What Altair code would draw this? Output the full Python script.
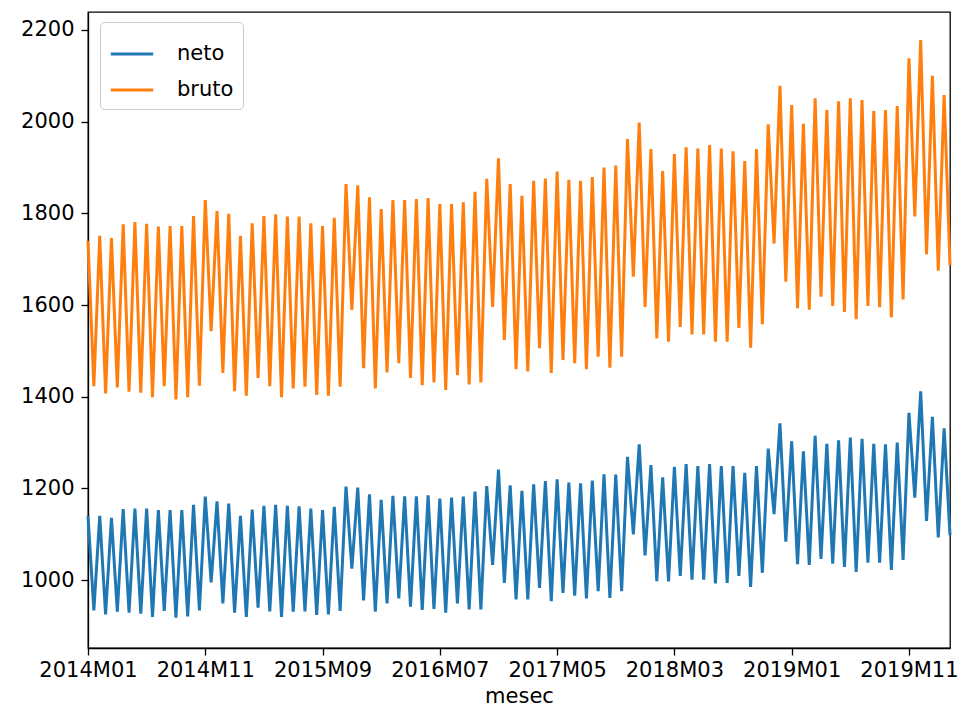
import altair as alt
import pandas as pd

neto = [1140, 934, 1140, 925, 1136, 931, 1155, 929, 1156, 927, 1156, 920, 1153, 933, 1153, 918,
        1153, 921, 1164, 934, 1182, 995, 1172, 949, 1167, 929, 1140, 920, 1154, 940, 1162, 932,
        1164, 920, 1162, 931, 1161, 932, 1156, 924, 1153, 925, 1160, 933, 1204, 1025, 1202, 956,
        1187, 931, 1175, 949, 1184, 960, 1183, 942, 1183, 935, 1185, 937, 1178, 929, 1180, 949,
        1182, 936, 1193, 936, 1205, 1033, 1241, 994, 1207, 958, 1195, 958, 1209, 983, 1216, 954,
        1220, 972, 1213, 966, 1211, 960, 1217, 976, 1231, 961, 1230, 976, 1269, 1100, 1296, 1054,
        1251, 998, 1224, 997, 1247, 1009, 1253, 1001, 1249, 1001, 1253, 993, 1249, 994, 1249, 1009,
        1234, 985, 1249, 1016, 1287, 1144, 1342, 1084, 1303, 1035, 1281, 1033, 1315, 1046, 1297, 1036,
        1305, 1029, 1311, 1018, 1308, 1038, 1297, 1038, 1296, 1022, 1300, 1044, 1365, 1180, 1412, 1129,
        1356, 1093, 1331, 1098]

bruto = [1740, 1423, 1751, 1407, 1746, 1420, 1776, 1411, 1781, 1409, 1777, 1399, 1771, 1423, 1772, 1394,
         1772, 1399, 1794, 1424, 1829, 1543, 1805, 1452, 1799, 1412, 1751, 1402, 1778, 1441, 1794, 1423,
         1798, 1399, 1793, 1418, 1793, 1422, 1778, 1404, 1772, 1402, 1790, 1422, 1864, 1589, 1861, 1462,
         1835, 1418, 1809, 1453, 1829, 1473, 1829, 1441, 1831, 1425, 1833, 1431, 1820, 1415, 1820, 1447,
         1824, 1427, 1847, 1431, 1875, 1596, 1920, 1524, 1864, 1460, 1838, 1455, 1871, 1506, 1876, 1452,
         1891, 1480, 1873, 1473, 1871, 1460, 1879, 1487, 1900, 1463, 1904, 1487, 1962, 1662, 1998, 1596,
         1940, 1527, 1892, 1520, 1929, 1552, 1944, 1536, 1941, 1536, 1949, 1520, 1941, 1520, 1935, 1550,
         1914, 1507, 1940, 1558, 1994, 1734, 2078, 1651, 2036, 1593, 1995, 1590, 2051, 1618, 2025, 1598,
         2044, 1585, 2051, 1569, 2047, 1598, 2023, 1595, 2025, 1573, 2034, 1612, 2138, 1793, 2178, 1711,
         2100, 1675, 2058, 1687]

tick_labels = ["2014M01", "2014M11", "2015M09", "2016M07", "2017M05", "2018M03", "2019M01", "2019M11"]
tick_step = 20
tick_values = [i * tick_step for i in range(len(tick_labels))]
y_ticks = [1000, 1200, 1400, 1600, 1800, 2000, 2200]

series_names = ["neto", "bruto"]
colors = ["#1f77b4", "#ff7f0e"]

rows = []
for name, vals in zip(series_names, [neto, bruto]):
    for i, v in enumerate(vals):
        rows.append({"idx": i, "value": v, "series": name})
df = pd.DataFrame(rows)

label_expr = "[" + ",".join("'" + t + "'" for t in tick_labels) + "][round(datum.value / %d)]" % tick_step

FONT = "DejaVu Sans"
FS = 21

chart = alt.Chart(df).mark_line(strokeWidth=3, strokeJoin="miter").encode(
    x=alt.X("idx:Q",
            scale=alt.Scale(domain=[0, len(neto) - 1], nice=False, zero=False),
            axis=alt.Axis(values=tick_values, labelExpr=label_expr, title="mesec",
                          labelFlush=False, labelOverlap=False, grid=False,
                          tickSize=7, tickColor="black", domainColor="black",
                          labelPadding=4, titlePadding=5)),
    y=alt.Y("value:Q",
            scale=alt.Scale(domain=[852, 2239], nice=False, zero=False),
            axis=alt.Axis(values=y_ticks, format="d", title=None, grid=False,
                          tickSize=7, tickColor="black", domainColor="black",
                          labelPadding=7)),
    color=alt.Color("series:N",
                    scale=alt.Scale(domain=series_names, range=colors),
                    sort=series_names,
                    legend=alt.Legend(title=None, orient="none", legendX=12, legendY=10,
                                      symbolType="stroke", symbolSize=1800, symbolStrokeWidth=3,
                                      labelFontSize=FS, labelFont=FONT, labelColor="black",
                                      fillColor="white", strokeColor="#cccccc", cornerRadius=4,
                                      padding=9, rowPadding=3, labelOffset=22)),
    order="idx:Q",
).properties(
    width=862,
    height=636,
    autosize=alt.AutoSizeParams(type="none"),
    padding={"left": 80, "top": 4, "right": 8, "bottom": 62},
).configure_view(
    stroke="black", strokeWidth=1.3
).configure_axis(
    labelFont=FONT, titleFont=FONT, labelFontSize=FS, titleFontSize=FS,
    labelColor="black", titleColor="black", titleFontWeight="normal",
    domainWidth=1.3, tickWidth=1.3
)

chart.save("out.html", embed_options={"renderer": "svg", "actions": False})
